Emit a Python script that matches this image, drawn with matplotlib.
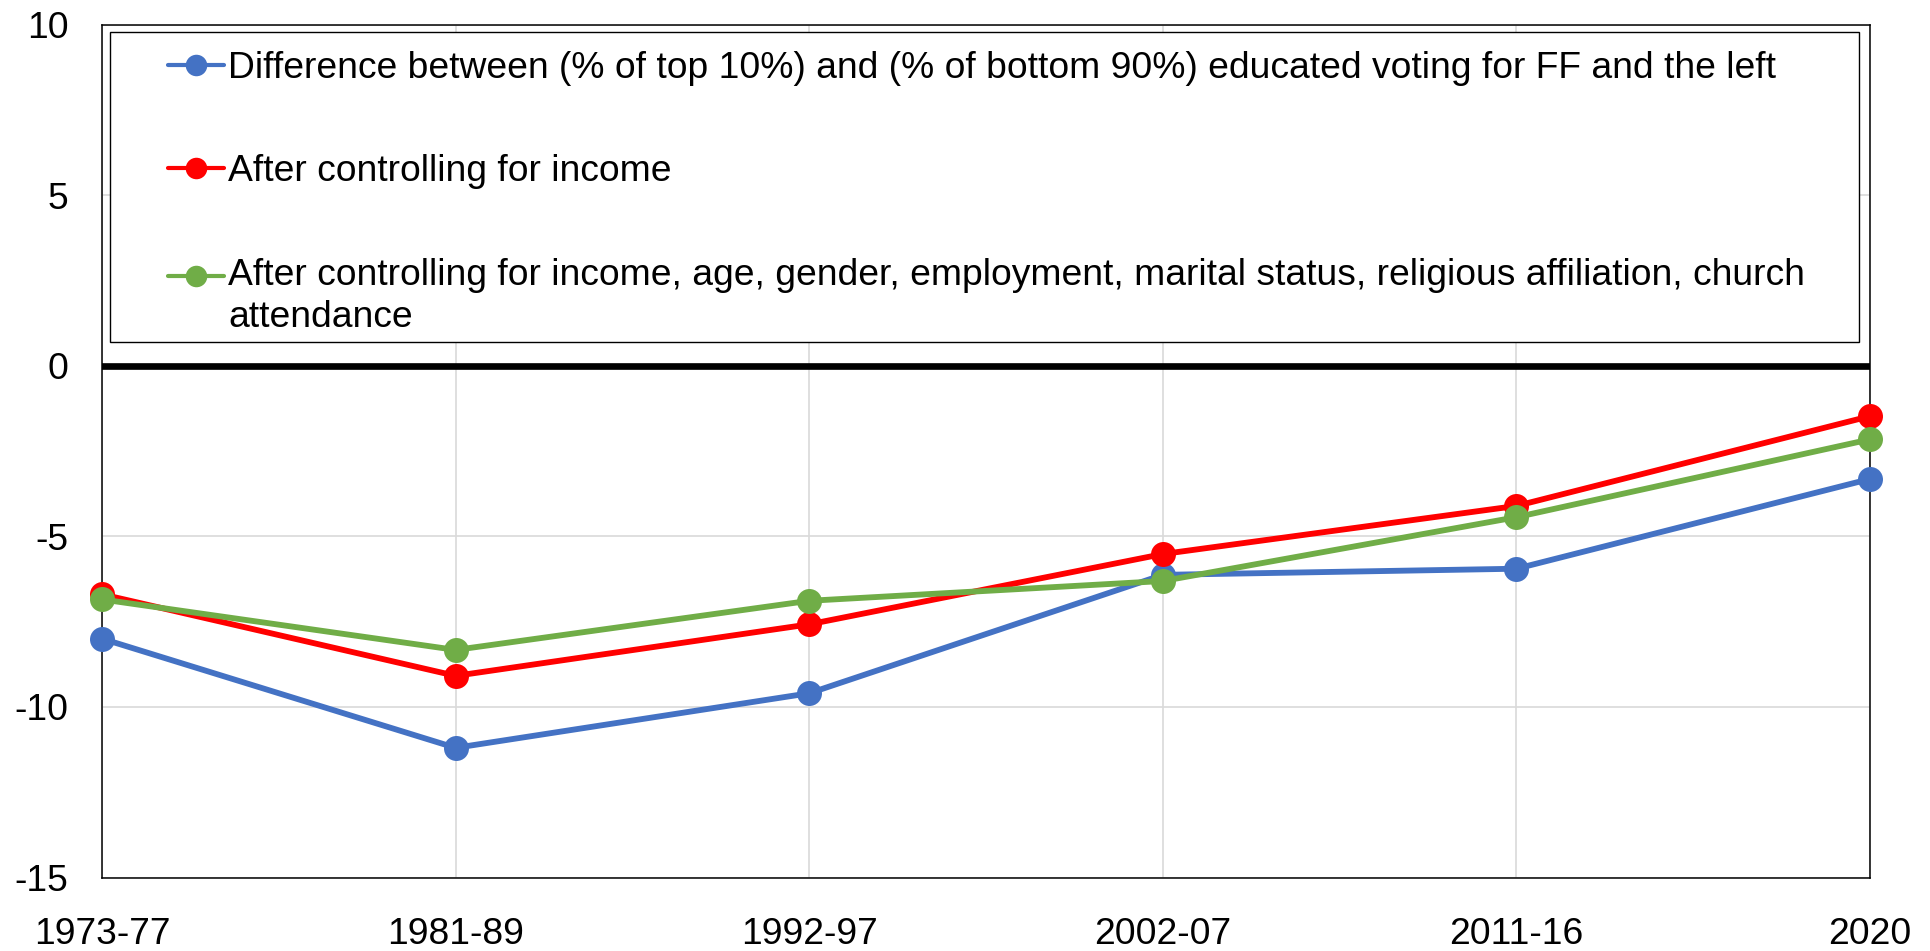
import numpy as np
import matplotlib
matplotlib.use("Agg")
import matplotlib.pyplot as plt
from matplotlib.legend_handler import HandlerLine2D
from matplotlib.patches import Rectangle

plt.rcParams['font.family'] = ['Liberation Sans', 'DejaVu Sans']
plt.rcParams['axes.unicode_minus'] = False

categories = ["1973-77", "1981-89", "1992-97", "2002-07", "2011-16", "2020"]
diff_top10 = [-8.0, -11.2, -9.6, -6.13, -5.95, -3.32]
ctrl_income = [-6.7, -9.09, -7.58, -5.52, -4.11, -1.48]
ctrl_all = [-6.85, -8.33, -6.89, -6.31, -4.44, -2.16]

labels = [
    "Difference between (% of top 10%) and (% of bottom 90%) educated voting for FF and the left",
    "After controlling for income",
    "After controlling for income, age, gender, employment, marital status, religious affiliation, church\nattendance",
]
colors = ["#4472C4", "#FF0000", "#70AD47"]
yticks = [-15, -10, -5, 0, 5, 10]

FS = 26.8

fig = plt.figure(figsize=(19.30, 9.51), dpi=100)
ax = fig.add_axes([102 / 1930, 1 - 877.5 / 951, 1768 / 1930, 853 / 951])

x = np.arange(len(categories))
series = [diff_top10, ctrl_income, ctrl_all]
lines = []
for vals, c, lab in zip(series, colors, labels):
    ln, = ax.plot(x, vals, color=c, lw=4.2, marker="o", markersize=18,
                  markeredgewidth=0, label=lab, zorder=3, clip_on=False,
                  solid_capstyle="round")
    lines.append(ln)

ax.axhline(0, color="black", lw=4.8, zorder=2.5)

ax.set_xlim(0, len(categories) - 1)
ax.set_ylim(-15, 10)
ax.set_xticks(x)
ax.set_xticklabels(categories)
ax.set_yticks(yticks)
ax.set_yticklabels([str(t) for t in yticks])
ax.tick_params(axis="both", length=0, labelsize=FS, colors="black")
ax.tick_params(axis="y", pad=24)
ax.tick_params(axis="x", pad=28.5)
ax.grid(True, color="#d9d9d9", lw=1.2, zorder=0)
ax.set_axisbelow(True)
for sp in ax.spines.values():
    sp.set_color("black")
    sp.set_linewidth(1.1)


def legend_style(legend_handle, orig_handle):
    legend_handle.update_from(orig_handle)
    legend_handle.set_markersize(15.5)
    legend_handle.set_linewidth(3.0)


class ShiftedHandler(HandlerLine2D):
    def __init__(self, shift, **kw):
        super().__init__(**kw)
        self.shift = shift

    def create_artists(self, legend, orig_handle, xdescent, ydescent, width,
                       height, fontsize, trans):
        arts = super().create_artists(legend, orig_handle, xdescent, ydescent,
                                      width, height, fontsize, trans)
        for a in arts:
            a.set_ydata(np.asarray(a.get_ydata(), dtype=float) + self.shift * fontsize)
        return arts


# legend frame
ax.add_patch(Rectangle((0.00452, 0.6279), 0.9893, 0.3634, transform=ax.transAxes,
                       fill=True, facecolor="white", edgecolor="black", lw=1.0,
                       zorder=4))

leg = ax.legend(handles=lines, labels=labels, loc="upper left",
                bbox_to_anchor=(0.0376, 0.969), frameon=False, fontsize=FS,
                borderpad=0, borderaxespad=0, labelspacing=1.84,
                handlelength=1.5, handletextpad=0.1,
                handler_map={
                    lines[0]: HandlerLine2D(update_func=legend_style),
                    lines[1]: HandlerLine2D(update_func=legend_style),
                    lines[2]: ShiftedHandler(0.565, update_func=legend_style),
                })
leg.set_zorder(5)
for t in leg.get_texts():
    t.set_linespacing(1.28)

fig.savefig("out.png", dpi=100)
